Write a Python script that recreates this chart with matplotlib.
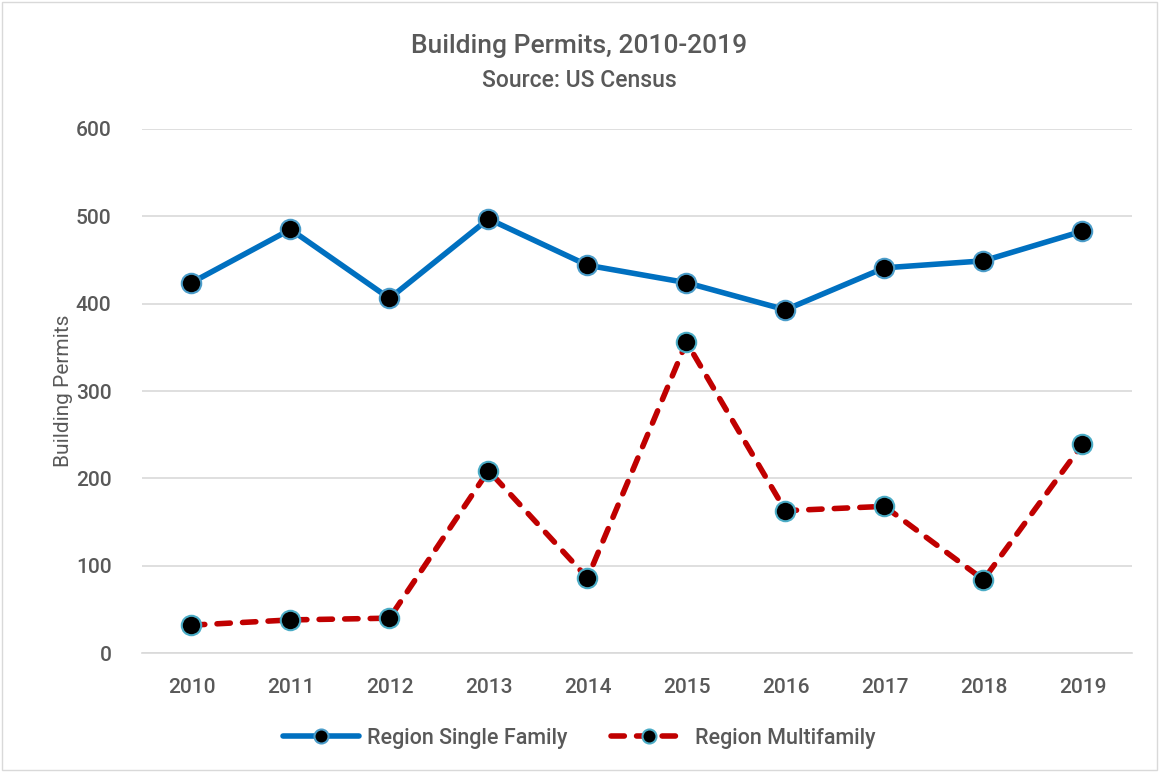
"""Building permits line chart, 2010-2019."""

import matplotlib.pyplot as plt
from matplotlib.patches import Rectangle

years = ["2010", "2011", "2012", "2013", "2014", "2015", "2016", "2017", "2018", "2019"]
single_family = [424, 485, 406, 497, 444, 424, 393, 441, 449, 483]
multifamily = [32, 38, 40, 209, 86, 356, 163, 168, 84, 239]

TXT = "#595959"
plt.rcParams["font.family"] = ["Roboto", "DejaVu Sans"]
plt.rcParams["font.weight"] = "medium"

fig = plt.figure(figsize=(11.59, 7.72), dpi=100)
ax = fig.add_axes([0.1225, 0.154, 0.8542, 0.679])

x = range(len(years))
ax.plot(x, single_family, color="#0070C0", lw=4, solid_capstyle="round",
        marker="o", ms=14, mfc="black", mec="#4A9CC9", mew=1.5,
        label="Region Single Family", zorder=3)
ax.plot(x, multifamily, color="#C00000", lw=4, ls=(0, (2.4, 2.2)),
        dash_capstyle="round", marker="o", ms=14, mfc="black",
        mec="#4BACC6", mew=1.5, label="Region Multifamily", zorder=3)

ax.set_xlim(-0.5, len(years) - 0.5)
ax.set_ylim(0, 600)
ax.set_yticks(range(0, 601, 100))
ax.set_xticks(list(x))
ax.set_xticklabels(years)
ax.grid(axis="y", color="#D9D9D9", lw=1.2)
ax.set_axisbelow(True)
for s in ["top", "right", "left"]:
    ax.spines[s].set_visible(False)
ax.spines["bottom"].set_color("#D9D9D9")
ax.spines["bottom"].set_linewidth(1.2)
ax.tick_params(length=0, labelsize=15, labelcolor=TXT)
ax.tick_params(axis="x", pad=18)
ax.tick_params(axis="y", pad=22)
ax.set_ylabel("Building Permits", fontsize=15, color=TXT, labelpad=2)

fig.text(0.5, 0.941, "Building Permits, 2010-2019", ha="center", va="center",
         fontsize=19, color=TXT)
fig.text(0.5, 0.896, "Source: US Census", ha="center", va="center",
         fontsize=16.5, color=TXT)

leg = fig.legend(loc="center", bbox_to_anchor=(0.5, 0.044), ncol=2, frameon=False,
                 fontsize=15.5, labelcolor=TXT, handlelength=3.5, columnspacing=2.0,
                 handletextpad=0.4, markerscale=0.72)

fig.patches.append(Rectangle((0.002, 0.002), 0.996, 0.996, transform=fig.transFigure,
                             fill=False, edgecolor="#D9D9D9", lw=1))

fig.savefig("out.png", dpi=100)
